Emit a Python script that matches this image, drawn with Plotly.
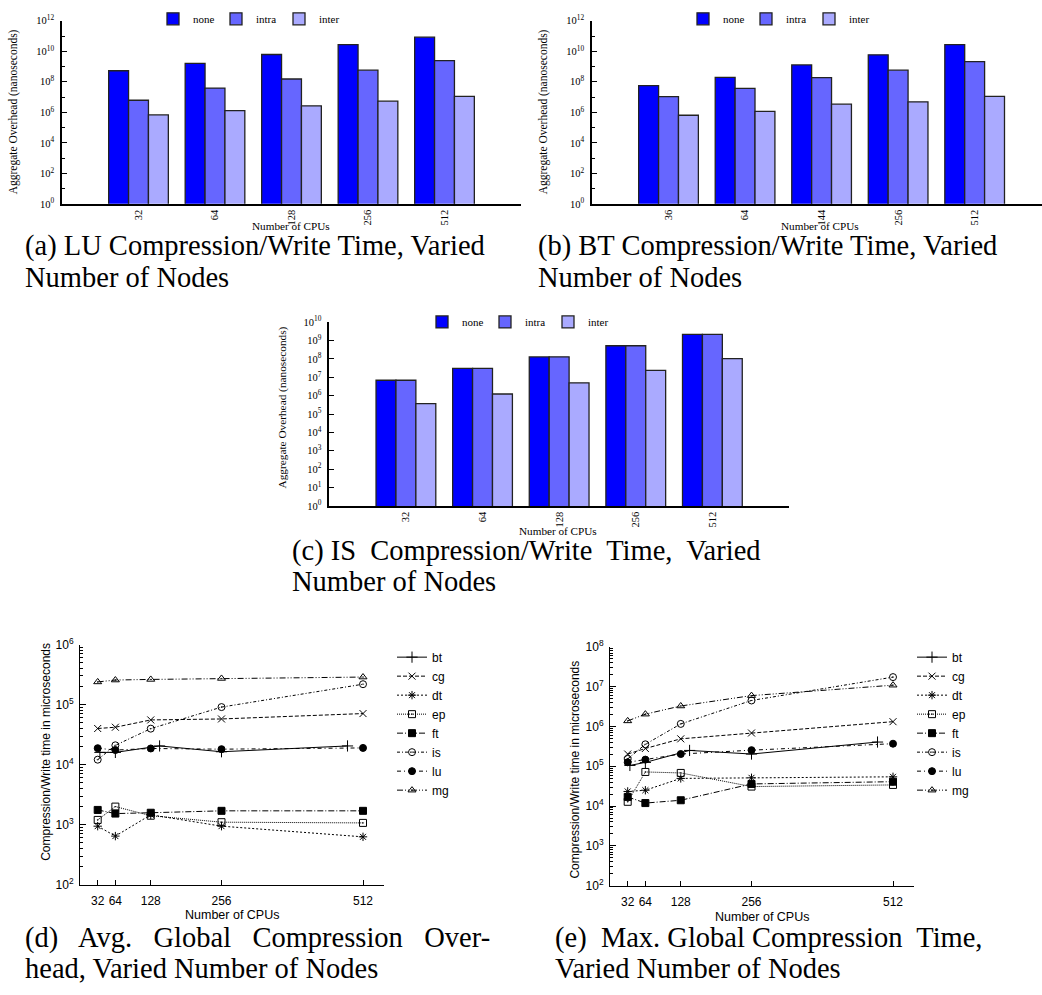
import plotly.graph_objects as go

W, H = 1042, 995

# ---------------- data ----------------
# (a) LU compression/write time (ns)
lu_cpus = ['32', '64', '128', '256', '512']
lu_none = [5.3e8, 1.64e9, 6.2e9, 2.73e10, 8.5e10]
lu_intra = [6.2e6, 3.86e7, 1.53e8, 5.8e8, 2.43e9]
lu_inter = [6.7e5, 1.28e6, 2.68e6, 5.4e6, 1.12e7]

# (b) BT compression/write time (ns)
bt_cpus = ['36', '64', '144', '256', '512']
bt_none = [5.7e7, 1.96e8, 1.28e9, 5.9e9, 2.73e10]
bt_intra = [1.07e7, 3.66e7, 1.87e8, 5.8e8, 2.1e9]
bt_inter = [6.4e5, 1.16e6, 3.4e6, 4.85e6, 1.12e7]

# (c) IS compression/write time (ns)
is_cpus = ['32', '64', '128', '256', '512']
is_none = [6.9e6, 3.03e7, 1.28e8, 5.2e8, 2.18e9]
is_intra = [6.9e6, 3.03e7, 1.3e8, 5.2e8, 2.18e9]
is_inter = [3.7e5, 1.23e6, 4.97e6, 2.37e7, 1.04e8]

# (d)/(e) global compression time (us)
bench_names = ['bt', 'cg', 'dt', 'ep', 'ft', 'is', 'lu', 'mg']
cpus = [32, 64, 128, 256, 512]
bt_line_cpus = [36, 64, 144, 256, 484]

avg_bt = [1.6e4, 1.6e4, 2.05e4, 1.64e4, 2.05e4]
avg_cg = [4.0e4, 4.2e4, 5.56e4, 5.77e4, 7.1e4]
avg_dt = [944, 645, 1460, 944, 627]
avg_ep = [1200, 2000, 1410, 1100, 1070]
avg_ft = [1760, 1530, 1580, 1700, 1700]
avg_is = [1.21e4, 2.1e4, 3.98e4, 9.1e4, 2.19e5]
avg_lu = [1.88e4, 1.75e4, 1.86e4, 1.81e4, 1.9e4]
avg_mg = [2.39e5, 2.57e5, 2.63e5, 2.73e5, 2.88e5]

max_bt = [1.05e5, 1.25e5, 2.5e5, 2.03e5, 4.06e5]
max_cg = [2.03e5, 2.8e5, 4.89e5, 6.85e5, 1.32e6]
max_dt = [2.33e4, 2.5e4, 4.96e4, 5.13e4, 5.43e4]
max_ep = [1.28e4, 7.2e4, 6.8e4, 3.09e4, 3.4e4]
max_ft = [1.7e4, 1.19e4, 1.4e4, 3.6e4, 4.1e4]
max_is = [1.53e5, 3.56e5, 1.16e6, 4.5e6, 1.74e7]
max_lu = [1.26e5, 1.47e5, 2.03e5, 2.54e5, 3.69e5]
max_mg = [1.38e6, 2.04e6, 3.27e6, 5.97e6, 1.09e7]

# tick labels
bar_tick_exp_ab = [0, 2, 4, 6, 8, 10, 12]
bar_minor_exp_ab = [1, 3, 5, 7, 9, 11]
bar_tick_exp_c = list(range(0, 11))
line_tick_exp_d = [2, 3, 4, 5, 6]
line_tick_exp_e = [2, 3, 4, 5, 6, 7, 8]
line_x_ticks = [32, 64, 128, 256, 512]

# ---------------- styles ----------------
SERIF = 'Liberation Serif'
SANS = 'Liberation Sans'
bar_colors = {'none': '#0000ff', 'intra': '#6666ff', 'inter': '#aaaaff'}
line_styles = {
    'bt': dict(dash='solid', symbol='cross-thin', size=8),
    'cg': dict(dash='4px,2px', symbol='x-thin', size=7),
    'dt': dict(dash='2px,2px', symbol='asterisk', size=7),
    'ep': dict(dash='1px,1px', symbol='square-open-dot', size=7),
    'ft': dict(dash='6px,2px,1px,2px', symbol='square', size=7),
    'is': dict(dash='3px,2px,1px,2px', symbol='circle-open-dot', size=7),
    'lu': dict(dash='4px,3px,1px,3px', symbol='circle', size=7),
    'mg': dict(dash='6px,2px,1px,2px,1px,2px', symbol='triangle-up-open-dot', size=7),
}


def xdom(p0, p1):
    return [max(0.0, p0 / W), min(1.0, p1 / W)]


def ydom(top, bot):
    return [1 - bot / H, 1 - top / H]


def sup(e):
    return '10<sup>%d</sup>' % e


fig = go.Figure()

bar_sets = [
    (lu_cpus, lu_none, lu_intra, lu_inter, 'x', 'y', 'legend'),
    (bt_cpus, bt_none, bt_intra, bt_inter, 'x2', 'y2', 'legend2'),
    (is_cpus, is_none, is_intra, is_inter, 'x3', 'y3', 'legend3'),
]
for cats, vn, va, ve, xa, ya, lg in bar_sets:
    for name, vals in (('none', vn), ('intra', va), ('inter', ve)):
        fig.add_trace(go.Bar(
            x=cats, y=vals, name=name, xaxis=xa, yaxis=ya, legend=lg,
            marker=dict(color=bar_colors[name], line=dict(color='#222222', width=1.3)),
        ))

avg_data = dict(bt=avg_bt, cg=avg_cg, dt=avg_dt, ep=avg_ep, ft=avg_ft, is_=avg_is, lu=avg_lu, mg=avg_mg)
max_data = dict(bt=max_bt, cg=max_cg, dt=max_dt, ep=max_ep, ft=max_ft, is_=max_is, lu=max_lu, mg=max_mg)

for data, xa, ya, lg in ((avg_data, 'x4', 'y4', 'legend4'), (max_data, 'x5', 'y5', 'legend5')):
    for name in bench_names:
        st = line_styles[name]
        key = 'is_' if name == 'is' else name
        xs = bt_line_cpus if name == 'bt' else cpus
        fig.add_trace(go.Scatter(
            x=xs, y=data[key], name=name, mode='lines+markers',
            xaxis=xa, yaxis=ya, legend=lg,
            line=dict(color='black', width=1, dash=st['dash']),
            marker=dict(symbol=st['symbol'], size=st['size'], color='black',
                        line=dict(color='black', width=1)),
        ))

bar_tickfont = dict(family=SERIF, size=10.5, color='black')
line_tickfont = dict(family=SANS, size=12, color='black')


def bar_x(dom, rng, anchor):
    return dict(domain=dom, range=rng, type='category', anchor=anchor,
                showline=True, linecolor='black', linewidth=1.5, ticks='',
                tickangle=-90, tickfont=bar_tickfont, showgrid=False, zeroline=False)


def bar_y(dom, exps, minor_exps, anchor, top):
    d = dict(domain=dom, type='log', range=[0, top], anchor=anchor,
             showline=True, linecolor='black', linewidth=1.5,
             tickmode='array', tickvals=[10 ** e for e in exps], ticktext=[sup(e) for e in exps],
             ticks='inside', ticklen=5, tickwidth=1, tickcolor='black',
             tickfont=bar_tickfont, ticklabelstandoff=4, showgrid=False, zeroline=False)
    if minor_exps:
        d['minor'] = dict(tickmode='array', tickvals=[10 ** e for e in minor_exps],
                          ticks='inside', ticklen=3, tickwidth=1, tickcolor='black', showgrid=False)
    return d


def line_x(dom, anchor):
    return dict(domain=dom, range=[0, 550], anchor=anchor, showline=True, linecolor='black',
                linewidth=1, tickmode='array', tickvals=line_x_ticks, ticks='inside', ticklen=5,
                tickcolor='black', tickfont=line_tickfont, ticklabelstandoff=5,
                showgrid=False, zeroline=False)


def line_y(dom, exps, anchor):
    lo, hi = exps[0], exps[-1]
    minor_vals = [m * 10 ** e for e in range(lo, hi) for m in range(2, 10)]
    return dict(domain=dom, type='log', range=[lo, hi], anchor=anchor, showline=True,
                linecolor='black', linewidth=1, tickmode='array',
                tickvals=[10 ** e for e in exps], ticktext=[sup(e) for e in exps],
                ticks='inside', ticklen=6, tickcolor='black', tickfont=line_tickfont,
                ticklabelstandoff=3,
                minor=dict(tickmode='array', tickvals=minor_vals, ticks='inside', ticklen=3,
                           tickcolor='black', showgrid=False),
                showgrid=False, zeroline=False)


bar_legend_font = dict(family=SERIF, size=11, color='black')


def bar_legend(icon_x, icon_y):
    return dict(orientation='h', x=(icon_x - 20) / W, xanchor='left', y=1 - icon_y / H,
                yanchor='middle', entrywidth=18, entrywidthmode='pixels',
                font=bar_legend_font, bgcolor='rgba(0,0,0,0)', borderwidth=0)


def line_legend(left, top):
    return dict(orientation='v', x=left / W, xanchor='left', y=1 - top / H, yanchor='top',
                font=dict(family=SANS, size=12, color='black'), bgcolor='rgba(0,0,0,0)',
                borderwidth=0, tracegroupgap=0)


annotations = []


def ann(text, x, y, size, family, angle=0, xanchor='center'):
    annotations.append(dict(text=text, x=x / W, y=1 - y / H, xref='paper', yref='paper',
                            xanchor=xanchor, yanchor='middle', showarrow=False, textangle=angle,
                            font=dict(family=family, size=size, color='black')))


# axis titles
ann('Aggregate Overhead (nanoseconds)', 13, 105, 11.5, SERIF, -90)
ann('Number of CPUs', 291, 221, 11.2, SERIF)
ann('Aggregate Overhead (nanoseconds)', 543, 105, 11.5, SERIF, -90)
ann('Number of CPUs', 820, 221, 11.2, SERIF)
ann('Aggregate Overhead (nanoseconds)', 282, 405, 11.3, SERIF, -90)
ann('Number of CPUs', 558, 531, 11.2, SERIF)
ann('Compression/Write time in microseconds', 46, 755, 12, SANS, -90)
ann('Number of CPUs', 232, 921, 12.5, SANS)
ann('Compression/Write time in microseconds', 575, 773, 12, SANS, -90)
ann('Number of CPUs', 762, 923, 12.5, SANS)

# captions
NB = '\u00a0'
CAP = 28.5
ann('(a) LU Compression/Write Time, Varied', 23, 241, CAP, SERIF, xanchor='left')
ann('Number of Nodes', 23, 273, CAP, SERIF, xanchor='left')
ann('(b) BT Compression/Write Time, Varied', 536, 241, CAP, SERIF, xanchor='left')
ann('Number of Nodes', 536, 273, CAP, SERIF, xanchor='left')
ann('(c) IS' + NB + ' Compression/Write' + NB + ' Time,' + NB + ' Varied', 290, 551, CAP, SERIF, xanchor='left')
ann('Number of Nodes', 290, 582, CAP, SERIF, xanchor='left')
ann('(d)' + NB * 2 + ' Avg.' + NB * 2 + ' Global' + NB * 2 + ' Compression' + NB * 2 + ' Over-',
    23, 944, CAP, SERIF, xanchor='left')
ann('head, Varied Number of Nodes', 23, 975, CAP, SERIF, xanchor='left')
ann('(e)' + NB + ' Max. Global Compression' + NB + ' Time,', 553, 944, CAP, SERIF, xanchor='left')
ann('Varied Number of Nodes', 553, 975, CAP, SERIF, xanchor='left')

fig.update_layout(
    width=W, height=H, margin=dict(l=0, r=0, t=0, b=0),
    paper_bgcolor='white', plot_bgcolor='white',
    barmode='group', bargap=0.22, bargroupgap=0,
    font=dict(family=SERIF, color='black'),
    xaxis=bar_x(xdom(62, 521), [-1, 5], 'y'),
    yaxis=bar_y(ydom(12, 198), bar_tick_exp_ab, bar_minor_exp_ab, 'x', 12),
    xaxis2=bar_x(xdom(592, 1042), [-1, 4.88], 'y2'),
    yaxis2=bar_y(ydom(12, 198), bar_tick_exp_ab, bar_minor_exp_ab, 'x2', 12),
    xaxis3=bar_x(xdom(329.3, 789), [-1, 5], 'y3'),
    yaxis3=bar_y(ydom(318.3, 505), bar_tick_exp_c, None, 'x3', 10),
    xaxis4=line_x(xdom(80, 384), 'y4'),
    yaxis4=line_y(ydom(646, 890), line_tick_exp_d, 'x4'),
    xaxis5=line_x(xdom(610, 914), 'y5'),
    yaxis5=line_y(ydom(648.3, 891), line_tick_exp_e, 'x5'),
    legend=bar_legend(173, 10),
    legend2=bar_legend(703, 10),
    legend3=bar_legend(442, 318),
    legend4=line_legend(392, 644),
    legend5=line_legend(912, 644),
    annotations=annotations,
)

fig.write_html('out.html', config={'displayModeBar': False},
               post_script="document.body.style.margin='0';document.body.style.overflow='hidden';")
